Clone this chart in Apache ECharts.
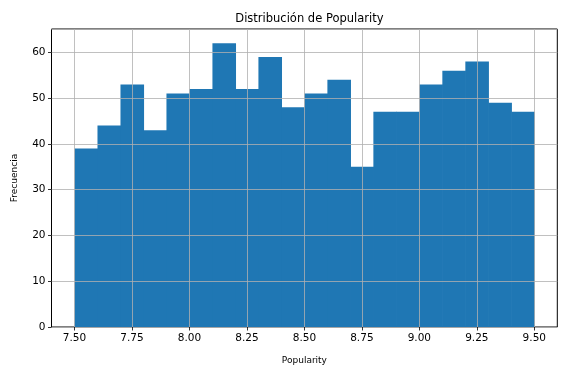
<!DOCTYPE html>
<html><head><meta charset="utf-8">
<script src="https://cdn.jsdelivr.net/npm/echarts@6/dist/echarts.min.js"></script>
<style>html,body{margin:0;padding:0;background:#fff}#c{width:566px;height:374px}</style>
</head><body><div id="c"></div>
<script>
const binStart = 7.5;
const binWidth = 0.1;
const counts = [39, 44, 53, 43, 51, 52, 62, 52, 59, 48, 51, 54, 35, 47, 47, 53, 56, 58, 49, 47];
const xTicks = [7.5, 7.75, 8.0, 8.25, 8.5, 8.75, 9.0, 9.25, 9.5];
const yTicks = [0, 10, 20, 30, 40, 50, 60];
const titleText = 'Distribución de Popularity';
const xLabel = 'Popularity';
const yLabel = 'Frecuencia';

const bars = counts.map((c, i) => [binStart + i * binWidth, binStart + (i + 1) * binWidth, c]);
const font = 'DejaVu Sans';
const L = 51.5, R = 566 - 557.3, T = 29, B = 374 - 327;
const xmin = 7.4, xmax = 9.6;
const w = 566 - L - R;
const L2 = L + (xTicks[0] - xmin) / (xmax - xmin) * w;
const R2 = R + (xmax - xTicks[xTicks.length - 1]) / (xmax - xmin) * w;

const chart = echarts.init(document.getElementById('c'), null, {renderer: 'canvas'});
chart.setOption({
  animation: false,
  title: {text: titleText, left: L + w / 2, top: 8, textAlign: 'center',
    textStyle: {fontFamily: font, fontSize: 11.5, fontWeight: 'normal', color: '#000'}},
  grid: [
    {left: L, right: R, top: T, bottom: B, show: true, borderColor: '#000', borderWidth: 1, backgroundColor: 'transparent'},
    {left: L2, right: R2, top: T, bottom: B}
  ],
  xAxis: [
    {type: 'value', gridIndex: 0, min: xmin, max: xmax, show: true, z: 3,
      axisLine: {show: false}, axisTick: {show: false}, axisLabel: {show: false}, splitLine: {show: false},
      name: xLabel, nameLocation: 'middle', nameGap: 29,
      nameTextStyle: {fontFamily: font, fontSize: 9, color: '#000'}},
    {type: 'value', gridIndex: 1, min: xTicks[0], max: xTicks[xTicks.length - 1], interval: 0.25, z: 3,
      axisLine: {show: false},
      axisTick: {show: true, length: 3.5, lineStyle: {color: '#000', width: 0.8}},
      axisLabel: {fontFamily: font, fontSize: 10.5, color: '#000', margin: 6,
        formatter: v => v.toFixed(2)},
      splitLine: {show: true, lineStyle: {color: '#b0b0b0', width: 0.8}}}
  ],
  yAxis: [
    {type: 'value', gridIndex: 0, min: 0, max: 65.1, interval: 10, z: 3,
      axisLine: {show: false},
      axisTick: {show: true, length: 3.5, lineStyle: {color: '#000', width: 0.8}},
      axisLabel: {fontFamily: font, fontSize: 10.5, color: '#000', margin: 6,
        showMaxLabel: false, formatter: v => yTicks.includes(v) ? String(v) : ''},
      splitLine: {show: true, lineStyle: {color: '#b0b0b0', width: 0.8}},
      name: yLabel, nameLocation: 'middle', nameGap: 32, nameRotate: 90,
      nameTextStyle: {fontFamily: font, fontSize: 9, color: '#000'}},
    {type: 'value', gridIndex: 1, min: 0, max: 65.1, show: false}
  ],
  series: [{
    type: 'custom', xAxisIndex: 0, yAxisIndex: 0, z: 2,
    data: bars,
    renderItem: (params, api) => {
      const p0 = api.coord([api.value(0), api.value(2)]);
      const p1 = api.coord([api.value(1), 0]);
      return {type: 'rect', shape: {x: p0[0], y: p0[1], width: p1[0] - p0[0] + 0.6, height: p1[1] - p0[1]},
        style: {fill: '#1f77b4', lineWidth: 0}};
    }
  }]
});
</script></body></html>
